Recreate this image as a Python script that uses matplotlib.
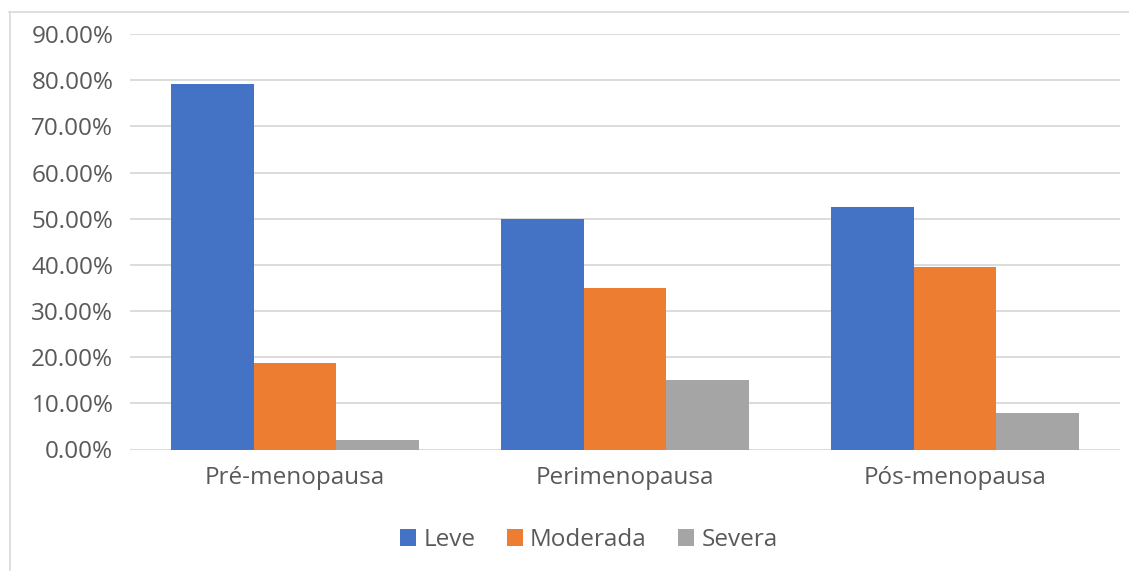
import matplotlib
matplotlib.use("Agg")
import matplotlib.pyplot as plt
import numpy as np
from matplotlib.ticker import FuncFormatter, MultipleLocator

categories = ["Pré-menopausa", "Perimenopausa", "Pós-menopausa"]
series_names = ["Leve", "Moderada", "Severa"]
leve = [79.17, 50.00, 52.63]
moderada = [18.75, 35.00, 39.47]
severa = [2.08, 15.00, 7.89]
colors = ["#4472C4", "#ED7D31", "#A5A5A5"]

plt.rcParams['font.family'] = ['Open Sans', 'DejaVu Sans']

W, H = 1129, 571
fig = plt.figure(figsize=(W / 100, H / 100), dpi=100)
ax = fig.add_axes([130 / W, (H - 449.5) / H, 990 / W, 415.5 / H])

x = np.arange(len(categories))
bw = 0.25
for i, (vals, name, c) in enumerate(zip([leve, moderada, severa], series_names, colors)):
    ax.bar(x + (i - 1) * bw, vals, width=bw, color=c, label=name, zorder=3)

ax.set_xlim(-0.5, len(categories) - 0.5)
ax.set_ylim(0, 90)
ax.yaxis.set_major_locator(MultipleLocator(10))
ax.yaxis.set_major_formatter(FuncFormatter(lambda v, p: f"{v:.2f}%"))
ax.grid(axis='y', color='#D9D9D9', linewidth=1.3, zorder=0)
ax.set_xticks(x)
ax.set_xticklabels(categories)
for s in ax.spines.values():
    s.set_visible(False)
ax.tick_params(axis='both', length=0, colors='#595959', labelsize=17.5)
ax.tick_params(axis='y', pad=12)
ax.tick_params(axis='x', pad=12)

leg = fig.legend(loc='center', bbox_to_anchor=(589 / W, 1 - 540 / H), ncol=3, frameon=False,
                 fontsize=17.5, handlelength=0.65, handleheight=0.65, handletextpad=0.3,
                 columnspacing=1.3)
for t in leg.get_texts():
    t.set_color('#595959')

# outer chart border (top and left visible)
fig.add_artist(plt.Line2D([9 / W, 1], [1 - 12 / H, 1 - 12 / H], color='#D9D9D9', linewidth=1.2, transform=fig.transFigure))
fig.add_artist(plt.Line2D([10 / W, 10 / W], [0, 1 - 12 / H], color='#D9D9D9', linewidth=1.2, transform=fig.transFigure))

fig.savefig("out.png", dpi=100)
